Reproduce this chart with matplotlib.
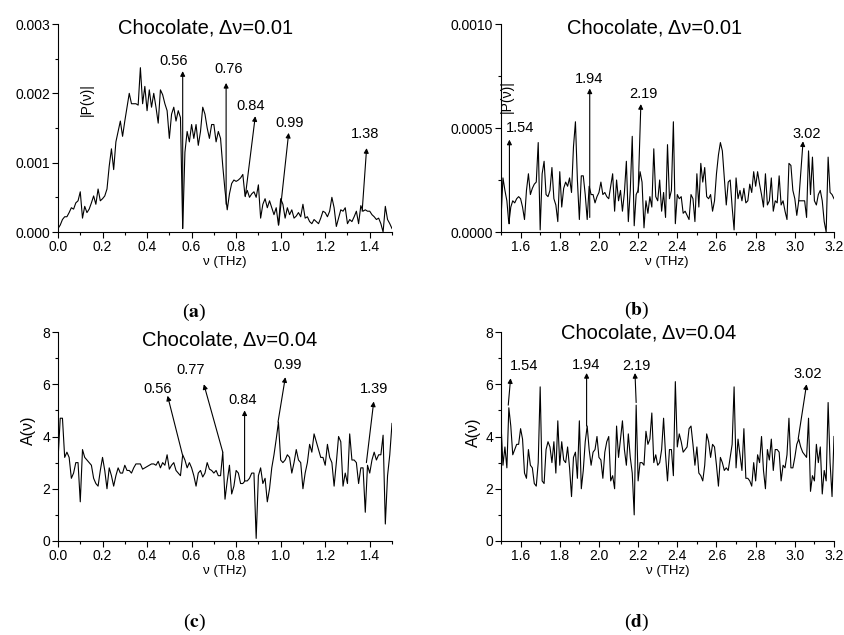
import numpy as np
import matplotlib
matplotlib.use('Agg')
import matplotlib.pyplot as plt
from matplotlib.ticker import MultipleLocator, FormatStrFormatter

plt.rcParams['font.family'] = ['Liberation Sans', 'DejaVu Sans']
plt.rcParams['mathtext.fontset'] = 'stix'

# frequency grids (THz), 0.01 step
freq_low = np.linspace(0.0, 1.5, 151)
freq_high = np.linspace(1.5, 3.2, 171)

# |P(v)| for 0-1.5 THz, units of 1e-3
p_low = [0.05, 0.10, 0.18, 0.22, 0.22, 0.28, 0.35, 0.33, 0.42, 0.45,
         0.58, 0.20, 0.37, 0.28, 0.33, 0.42, 0.52, 0.40, 0.62, 0.45,
         0.48, 0.52, 0.62, 0.95, 1.20, 0.90, 1.30, 1.45, 1.60, 1.38,
         1.60, 1.80, 2.00, 1.85, 1.85, 1.85, 1.83, 2.37, 1.85, 2.10,
         1.75, 2.05, 1.80, 2.00, 1.80, 1.57, 2.05, 1.98, 1.85, 1.75,
         1.35, 1.70, 1.80, 1.60, 1.75, 1.65, 0.05, 1.15, 1.45, 1.30,
         1.55, 1.35, 1.55, 1.25, 1.45, 1.80, 1.70, 1.50, 1.35, 1.55,
         1.55, 1.30, 1.45, 1.35, 0.95, 0.60, 0.32, 0.55, 0.70, 0.75,
         0.73, 0.75, 0.78, 0.83, 0.52, 0.60, 0.50, 0.55, 0.58, 0.50,
         0.68, 0.20, 0.40, 0.48, 0.35, 0.45, 0.35, 0.25, 0.35, 0.10,
         0.48, 0.40, 0.20, 0.35, 0.25, 0.32, 0.20, 0.23, 0.28, 0.22,
         0.40, 0.20, 0.22, 0.15, 0.12, 0.18, 0.15, 0.12, 0.20, 0.30,
         0.28, 0.22, 0.30, 0.50, 0.35, 0.08, 0.20, 0.32, 0.30, 0.35,
         0.12, 0.18, 0.15, 0.22, 0.30, 0.12, 0.38, 0.30, 0.32, 0.30,
         0.30, 0.25, 0.22, 0.18, 0.20, 0.12, 0.00, 0.37, 0.18, 0.12,
         0.05]

# |P(v)| for 1.5-3.2 THz, units of 1e-4
p_high = [0.6, 2.6, 2.0, 1.5, 0.4, 1.2, 1.5, 1.4, 1.6, 1.7,
          1.6, 1.2, 0.6, 2.0, 2.8, 1.8, 2.1, 2.3, 2.4, 4.3,
          0.1, 2.8, 3.4, 1.8, 1.7, 2.0, 3.1, 1.6, 1.3, 0.5,
          2.9, 1.2, 2.1, 2.4, 2.2, 2.6, 1.9, 4.1, 5.3, 2.5,
          0.6, 2.7, 2.7, 1.8, 0.6, 2.2, 1.8, 1.8, 1.4, 1.7,
          1.9, 2.4, 1.8, 1.9, 1.7, 1.6, 2.2, 2.8, 1.0, 2.5,
          1.5, 2.0, 1.0, 1.9, 3.4, 0.5, 2.0, 4.6, 0.3, 1.8,
          2.0, 2.9, 2.4, 0.2, 1.5, 0.9, 1.7, 1.2, 4.0, 1.7,
          1.5, 2.5, 1.0, 1.9, 0.7, 4.2, 1.6, 2.0, 5.3, 0.4,
          1.8, 1.6, 1.7, 0.9, 1.0, 0.8, 0.6, 1.8, 1.6, 0.5,
          2.8, 1.2, 3.3, 2.4, 3.1, 1.7, 1.6, 1.8, 1.0, 1.5,
          2.8, 3.7, 4.3, 3.9, 2.6, 1.3, 2.4, 2.5, 1.2, 0.1,
          2.6, 1.6, 2.0, 1.5, 2.1, 1.4, 1.5, 2.3, 1.9, 2.9,
          2.2, 2.9, 2.3, 1.8, 1.2, 2.8, 1.3, 1.5, 2.6, 1.0,
          1.5, 1.4, 2.7, 1.3, 1.5, 1.0, 0.6, 3.3, 3.2, 2.0,
          1.6, 0.8, 1.5, 1.5, 1.5, 1.5, 0.7, 3.9, 1.8, 3.6,
          1.5, 1.3, 1.8, 2.0, 1.5, 0.5, 0.0, 3.6, 1.9, 1.8,
          1.6]

# A(v) for 0-1.5 THz
a_low = [3.1, 4.7, 4.7, 3.2, 3.4, 3.2, 2.4, 2.6, 3.0, 3.0,
         1.5, 3.5, 3.2, 3.1, 3.0, 2.9, 2.4, 2.2, 2.1, 2.7,
         3.2, 2.7, 2.0, 2.8, 2.5, 2.1, 2.5, 2.8, 2.6, 2.6,
         2.9, 2.7, 2.7, 2.6, 2.8, 2.95, 2.95, 2.95, 2.75, 2.8,
         2.85, 2.9, 2.95, 2.95, 2.9, 3.05, 2.8, 3.0, 2.9, 3.3,
         2.75, 2.9, 3.0, 2.7, 2.6, 2.5, 3.3, 3.1, 2.8, 3.0,
         2.8, 2.5, 2.1, 2.6, 2.7, 2.45, 2.6, 3.0, 2.75, 2.7,
         2.6, 2.7, 2.5, 2.5, 3.4, 1.6, 2.3, 2.9, 1.8, 2.1,
         2.7, 2.6, 2.2, 2.2, 2.3, 2.3, 2.4, 2.6, 2.6, 0.1,
         2.5, 2.8, 2.2, 2.4, 1.5, 2.0, 2.8, 3.3, 3.9, 4.55,
         3.1, 3.0, 3.1, 3.3, 3.2, 2.6, 3.0, 3.5, 3.1, 3.0,
         2.0, 2.6, 3.0, 3.7, 3.4, 4.1, 3.8, 3.5, 3.2, 3.2,
         2.9, 3.7, 3.2, 3.0, 2.1, 3.0, 4.0, 3.8, 2.1, 2.6,
         2.2, 4.1, 3.1, 3.1, 3.0, 2.2, 2.8, 2.8, 1.1, 2.9,
         2.6, 3.1, 3.4, 3.1, 3.3, 3.3, 4.05, 0.65, 2.5, 3.3,
         4.5]

# A(v) for 1.5-3.2 THz
a_high = [4.5, 2.9, 3.6, 2.8, 5.1, 4.4, 3.3, 3.5, 3.7, 3.7,
          4.3, 3.9, 2.6, 2.4, 3.5, 2.9, 2.8, 2.2, 2.1, 3.0,
          5.9, 2.3, 2.2, 3.5, 3.8, 3.6, 3.0, 3.8, 2.6, 4.6,
          2.9, 3.8, 3.1, 3.0, 3.6, 2.8, 1.7, 3.2, 3.4, 2.4,
          4.6, 2.0, 2.7, 3.8, 4.4, 3.5, 2.9, 3.4, 3.5, 4.0,
          3.2, 3.1, 2.4, 3.4, 3.8, 4.0, 2.3, 2.5, 2.0, 4.4,
          3.2, 3.9, 4.6, 3.5, 2.9, 4.1, 3.2, 2.6, 1.0, 5.2,
          2.3, 3.0, 3.0, 2.9, 4.2, 3.7, 3.9, 4.9, 3.0, 3.3,
          2.9, 3.0, 3.5, 4.7, 3.3, 2.3, 3.5, 3.5, 2.5, 6.1,
          3.6, 4.1, 3.8, 3.4, 3.5, 3.6, 4.3, 4.4, 3.7, 2.9,
          3.6, 2.6, 2.5, 2.3, 2.9, 4.1, 3.8, 3.2, 3.7, 3.6,
          2.9, 2.1, 3.2, 3.0, 2.7, 2.8, 2.7, 3.2, 3.7, 5.9,
          2.8, 3.9, 3.3, 2.7, 4.3, 2.4, 2.4, 2.3, 2.1, 3.0,
          2.3, 3.3, 3.0, 4.0, 2.7, 2.0, 3.5, 3.1, 3.9, 2.7,
          3.5, 3.5, 3.4, 2.3, 2.9, 2.8, 3.3, 4.7, 2.8, 2.8,
          3.2, 3.7, 3.9, 3.6, 3.4, 3.3, 3.2, 4.7, 1.9, 2.5,
          2.3, 3.7, 3.0, 3.6, 1.8, 2.7, 2.3, 5.3, 3.0, 1.7,
          4.0]

# peak labels: (text, tail xy, head xy, label xy)
marks_a = [("0.56", (0.560, 0.05), (0.560, 2.32), (0.520, 2.46)),
           ("0.76", (0.755, 0.40), (0.755, 2.15), (0.766, 2.35)),
           ("0.84", (0.841, 0.51), (0.886, 1.67), (0.864, 1.82)),
           ("0.99", (0.991, 0.10), (1.036, 1.43), (1.040, 1.57)),
           ("1.38", (1.366, 0.30), (1.386, 1.21), (1.377, 1.41))]
marks_b = [("1.54", (1.543, 0.4), (1.543, 4.44), (1.597, 5.0)),
           ("1.94", (1.953, 0.7), (1.953, 6.90), (1.949, 7.35)),
           ("2.19", (2.200, 1.9), (2.214, 6.15), (2.226, 6.63)),
           ("3.02", (3.020, 1.5), (3.042, 4.36), (3.060, 4.70))]
marks_c = [("0.56", (0.559, 3.3), (0.492, 5.56), (0.447, 5.83)),
           ("0.77", (0.740, 3.4), (0.655, 6.00), (0.597, 6.55)),
           ("0.84", (0.838, 2.3), (0.838, 5.00), (0.828, 5.40)),
           ("0.99", (0.988, 4.55), (1.021, 6.27), (1.033, 6.75)),
           ("1.39", (1.385, 3.0), (1.418, 5.34), (1.418, 5.81))]
marks_d = [("1.54", (1.537, 5.2), (1.549, 6.23), (1.617, 6.68)),
           ("1.94", (1.937, 4.4), (1.937, 6.43), (1.932, 6.75)),
           ("2.19", (2.190, 5.3), (2.184, 6.43), (2.192, 6.71)),
           ("3.02", (3.017, 3.9), (3.060, 6.00), (3.068, 6.39))]

W, H = 845, 635
fig = plt.figure(figsize=(W / 100, H / 100), dpi=100)


def box(x0, x1, y0, y1):
    return [x0 / W, 1 - y1 / H, (x1 - x0) / W, (y1 - y0) / H]


def style(ax, xlim, ylim, xmaj, ymaj, yfmt):
    ax.set_xlim(*xlim)
    ax.set_ylim(*ylim)
    for s in ('top', 'right'):
        ax.spines[s].set_visible(False)
    for s in ('left', 'bottom'):
        ax.spines[s].set_linewidth(0.8)
    ax.xaxis.set_major_locator(MultipleLocator(xmaj))
    ax.xaxis.set_minor_locator(MultipleLocator(xmaj / 2))
    ax.yaxis.set_major_locator(MultipleLocator(ymaj))
    ax.yaxis.set_minor_locator(MultipleLocator(ymaj / 2))
    ax.xaxis.set_major_formatter(FormatStrFormatter('%.1f'))
    ax.yaxis.set_major_formatter(FormatStrFormatter(yfmt))
    ax.tick_params(which='major', direction='out', length=4, width=0.8,
                   labelsize=10, pad=1.5)
    ax.tick_params(which='minor', direction='out', length=2.5, width=0.8)


def mark(ax, marks, scale):
    for txt, tail, head, pos in marks:
        ax.annotate('', xy=(head[0], head[1] * scale),
                    xytext=(tail[0], tail[1] * scale),
                    arrowprops=dict(arrowstyle='-|>', color='black', lw=0.8,
                                    mutation_scale=7, shrinkA=0, shrinkB=0))
        ax.text(pos[0], pos[1] * scale, txt, fontsize=10.5,
                ha='center', va='center')


ax_a = fig.add_axes(box(58, 392, 24, 232))
ax_a.plot(freq_low, np.array(p_low) * 1e-3, color='black', lw=0.8)
style(ax_a, (0, 1.5), (0, 0.003), 0.2, 0.001, '%.3f')
mark(ax_a, marks_a, 1e-3)
ax_a.text(0.443, 0.98, 'Chocolate, \u0394\u03bd=0.01', transform=ax_a.transAxes,
          fontsize=14.5, ha='center', va='center')

ax_b = fig.add_axes(box(501, 834, 24, 232))
ax_b.plot(freq_high, np.array(p_high) * 1e-4, color='black', lw=0.8)
style(ax_b, (1.5, 3.2), (0, 0.001), 0.2, 0.0005, '%.4f')
mark(ax_b, marks_b, 1e-4)
ax_b.text(0.462, 0.98, 'Chocolate, \u0394\u03bd=0.01', transform=ax_b.transAxes,
          fontsize=14.5, ha='center', va='center')

ax_c = fig.add_axes(box(58, 392, 332, 541))
ax_c.plot(freq_low, a_low, color='black', lw=0.8)
style(ax_c, (0, 1.5), (0, 8), 0.2, 2, '%d')
mark(ax_c, marks_c, 1)
ax_c.text(0.515, 0.962, 'Chocolate, \u0394\u03bd=0.04', transform=ax_c.transAxes,
          fontsize=14.5, ha='center', va='center')

ax_d = fig.add_axes(box(501, 834, 332, 541))
ax_d.plot(freq_high, a_high, color='black', lw=0.8)
style(ax_d, (1.5, 3.2), (0, 8), 0.2, 2, '%d')
mark(ax_d, marks_d, 1)
ax_d.text(0.444, 0.995, 'Chocolate, \u0394\u03bd=0.04', transform=ax_d.transAxes,
          fontsize=14.5, ha='center', va='center')

# axis labels
for x, y in [(225, 262), (667, 262), (225, 571), (668, 571)]:
    fig.text(x / W, 1 - y / H, '\u03bd (THz)', fontsize=9.5,
             ha='center', va='center')
fig.text(87 / W, 1 - 100 / H, '|P(\u03bd)|', fontsize=10, rotation=90,
         ha='center', va='center')
fig.text(507 / W, 1 - 97 / H, '|P(\u03bd)|', fontsize=10, rotation=90,
         ha='center', va='center')
fig.text(28 / W, 1 - 430 / H, 'A(\u03bd)', fontsize=11.5, rotation=90,
         ha='center', va='center')
fig.text(473 / W, 1 - 432 / H, 'A(\u03bd)', fontsize=11.5, rotation=90,
         ha='center', va='center')

# panel letters
for letter, x, y in [('a', 194, 312), ('b', 637, 310), ('c', 194, 622), ('d', 637, 622)]:
    fig.text(x / W, 1 - y / H, '($\\mathbf{%s}$)' % letter, fontsize=14,
             family='Liberation Serif', ha='center', va='center')

fig.savefig('out.png', dpi=100)
